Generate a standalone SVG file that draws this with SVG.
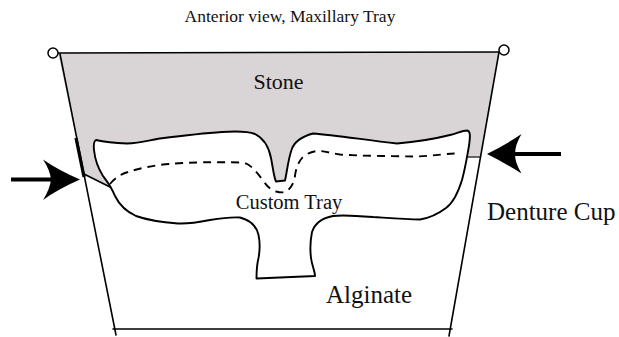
<svg xmlns="http://www.w3.org/2000/svg" width="619" height="337" viewBox="0 0 619 337">
  <style>
    .lbl { font-family: "Liberation Serif", "Times New Roman", serif; fill: #111; }
    .wall { fill: none; stroke: #000; stroke-width: 1.6; stroke-linecap: round; }
    .tray { fill: #fff; stroke: #000; stroke-width: 1.9; stroke-linejoin: round; }
    .dash { fill: none; stroke: #000; stroke-width: 1.9; stroke-dasharray: 8 6; }
    .pin { fill: #fff; stroke: #000; stroke-width: 1.5; }
    .shaft { stroke: #000; stroke-width: 4; }
    .head { fill: #000; }
  </style>

  <!-- title -->
  <text class="lbl" x="290" y="21.5" font-size="17.5" text-anchor="middle">Anterior view, Maxillary Tray</text>

  <!-- stone filling the upper part of the cup -->
  <g id="stone">
    <path d="M58,53 L499,52 L480.5,157 L466,157 L280,196 L110,187 L84,174 Z" fill="#d9d4d5"/>
    <line x1="466" y1="157" x2="481" y2="157" stroke="#444" stroke-width="1.6"/>
    <line x1="84" y1="174" x2="110" y2="187" stroke="#000" stroke-width="1.6"/>
  </g>

  <!-- custom tray outline -->
  <g id="custom-tray">
    <path class="tray" d="M96,140 C100,141 110,143 127,143.5 C140,143 150,140 160,138.5 C180,136 200,133.5 222,132 C238,131 250,132 255,134 C265,139 269,148 271,158 C273,168 274,178 276,181.5 L285,180.5 C287,172 288,160 291.5,150 C294,142 300,137 313,133.5 C335,135 365,140 397,143.5 C415,142 430,140 450,135 C458,133 462,130.5 467,130.5 C471,131 470,138 469,146 C467,156 466,165 462,180 C458,193 453,203 446,208 C438,214 430,218 420,219.5 C405,219 390,218 373,217 C355,215.5 343,214.5 333,216 C322,218 315,223 312,232 C310,242 310,250 311,258 C312,266 315,271 315,276 L256.5,278.5 C256.5,272 256.5,266 258.5,258 C260,250 260,242 258.5,235 C256.5,226 250,220 240,217.5 C232,217 222,218 210,220 C195,223 188,224 178,223.5 C165,222.5 150,221 136,216 C125,211 119,204 115,196 C111,186 106,180 103,176 C98,168 95,160 94,150 C93.5,145 94,141 96,140 Z"/>
    <path class="dash" d="M110,184 C115,178 121,174 128,172 C140,168 155,165 170,164 C190,162 215,162 243,162.5 C250,164 255,170 262,179 C266,185 270,190 276,191.5 C280,192.5 284,193 287,191 C292,187 294,182 295,176 C296,168 298,163 302,158 C306,154 312,151 318,151 C325,151 330,153 340,154.5 C360,156 390,156 413,156.5 C428,156.5 440,154 460,153.3"/>
  </g>

  <!-- denture cup -->
  <g id="denture-cup">
    <line class="wall" x1="60" y1="54" x2="116" y2="335"/>
    <line class="wall" x1="499" y1="52" x2="449" y2="336"/>
    <line class="wall" x1="58" y1="53" x2="499" y2="52"/>
    <line class="wall" x1="113" y1="329" x2="452" y2="329"/>
    <line x1="76" y1="138" x2="84" y2="177" stroke="#000" stroke-width="3.2"/>
    <circle class="pin" cx="53" cy="53" r="5"/>
    <circle class="pin" cx="504" cy="50" r="5"/>
  </g>

  <!-- pointer arrows at the stone level -->
  <g id="arrows">
    <line class="shaft" x1="11" y1="179.5" x2="56" y2="179.5"/>
    <path class="head" d="M80,179.5 Q58,170 43,159.5 Q50,170 51,179.5 Q50,189 43,200 Q58,189 80,179.5 Z"/>
    <line class="shaft" x1="512" y1="154" x2="561" y2="154"/>
    <path class="head" d="M487,154 Q507,144 521.5,134 Q515,145 515,154 Q515,163 521.5,173.5 Q507,164 487,154 Z"/>
  </g>

  <!-- labels -->
  <text class="lbl" x="278.5" y="89.3" font-size="22" text-anchor="middle">Stone</text>
  <text class="lbl" x="289" y="209.3" font-size="20.5" text-anchor="middle">Custom Tray</text>
  <text class="lbl" x="487" y="220" font-size="25">Denture Cup</text>
  <text class="lbl" x="326" y="302.7" font-size="25">Alginate</text>
</svg>
